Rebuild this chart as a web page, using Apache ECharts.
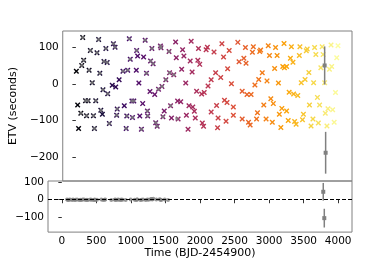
<!DOCTYPE html>
<html><head><meta charset="utf-8">
<script src="https://cdn.jsdelivr.net/npm/echarts@6/dist/echarts.min.js"></script>
<style>html,body{margin:0;padding:0;background:#fff}#c{width:390px;height:260px}</style>
</head><body><div id="c"></div>
<script>
// Model ETV points (x markers, coloured by time)
const modelT = [7,27,41,75,89,104,118,147,162,186,201,220,249,267,282,302,321,346,364,379,403,412,427,456,476,484,509,553,571,596,606,620,629,658,
716,736,765,774,788,813,827,852,861,881,919,924,939,958,972,997,1016,1030,1054,1074,1088,1092,1127,1136,1156,1175,1199,1214,1237,1257,1286,1295,1309,1324,1344,1368,1417,1425,1440,1454,1489,1517,1527,1547,1555,
1595,1609,1623,1643,1671,1681,1706,1720,1739,1754,1768,1778,1802,1816,1836,1855,1865,1884,1913,1923,1942,1952,1981,2000,2010,2058,2058,2101,2126,2140,2155,2163,2203,2221,2246,2260,2284,2299,2308,2332,2366,2395,2395,
2463,2482,2530,2530,2555,2579,2588,2603,2626,2651,2665,2685,2699,2723,2748,2762,2781,2796,2810,2835,2858,2893,2907,2926,2945,2965,2988,3003,3023,3037,3061,3081,3095,3118,3133,3147,3166,3172,3205,3205,3230,3244,3263,3278,3302,3312,3327,3350,3375,3399,3408,3428,3447,3461,3486,3505,3519,3544,3553,3577,3606,3616,3631,3650,3674,3688,3707,3726,3746,3761,3784,3794,3819,3834,3857,3881,3891,3906,3929,3949,3968,3987];
const modelETV = [34,-58,-122,-80,50,126,64,-46,-87,-46,37,91,3,-87,-122,-46,85,121,29,-72,-83,-16,61,96,58,-27,-108,-4,109,100,-9,-86,-69,11,
34,-60,-122,-88,37,123,67,-47,-92,-47,37,91,76,2,-88,-124,-54,73,119,29,-74,-88,-21,62,96,55,-29,-106,-116,-15,103,98,-7,-90,-74,11,88,30,-60,-93,25,114,71,-47,-96,
-49,40,93,76,2,-86,-124,-60,62,116,32,-63,-75,-93,-20,64,96,53,-28,-107,-116,-24,93,100,-6,11,-77,87,30,-59,-120,-93,17,109,73,-45,-102,-51,41,91,0,-63,-86,
113,60,-20,-96,70,99,56,-29,-105,-112,-29,86,101,-3,-96,-79,12,88,92,30,-58,-96,8,104,77,-41,-105,-54,42,99,77,2,-83,-119,-67,47,110,44,-74,47,-100,-23,70,101,59,-28,-103,-110,-32,77,101,3,-98,-83,12,90,95,31,-58,-115,-96,3,99,80,-37,-107,-58,44,101,80,3,-80,-115,-68,40,106,47,-71,-105,-24,71,104];

// Observed (Kepler) ETVs, gray
const obsT = [75,89,104,118,147,162,186,201,220,249,267,282,302,321,346,364,379,412,427,456,476,484,509,571,596,620,629,716,765,774,788,813,827,852,861,881,924,997,1054,1074,1088,1092,1136,1156,1175,1214,1237,1257,1286,1295,1309,1324,1368,1417,1425,1440,1489,1537];
const obsETV = [-80,50,126,64,-46,-87,-46,37,91,3,-87,-122,-46,85,121,29,-72,-16,61,96,58,-27,-108,109,100,-86,-69,34,-122,-88,37,123,67,-47,-92,-47,91,-124,119,29,-74,-88,62,96,55,-106,-116,-15,103,98,-7,-90,11,88,30,-60,25,-95];
const obsResid = [1,-1,0,2,-2,1,-1,0,1,-2,0,-1,1,2,-1,0,-2,1,0,-1,2,-1,0,1,-2,0,1,-1,0,2,-1,1,0,-2,1,0,-1,1,0,-2,1,2,-1,0,1,-1,2,0,3,4,2,5,1,3,0,-1,1,-1];

// Late observations (with error bars), gray
const lateT = [3784, 3799];
const lateETV = [50, -188];
const lateErr = [52, 57];
const lateResid = [45, -104];
const lateResidErr = [50, 53];

const xTicks = [0,500,1000,1500,2000,2500,3000,3500,4000];
const yTopTicks = [-200,-100,0,100];
const yBotTicks = [-100,0,100];

const inferno = ['#000004','#160b39','#420a68','#6a176e','#932667','#bc3754','#dd513a','#f37819','#fca50a','#f6d746','#fcffa4'];
const gray = '#808080';
const frame = '#808080';
const FONT = 'DejaVu Sans';
const fmt = v => v < 0 ? '\u2212' + (-v) : String(v);
const crossPath = 'path://M0,1.8L1.8,0L5,3.2L8.2,0L10,1.8L6.8,5L10,8.2L8.2,10L5,6.8L1.8,10L0,8.2L3.2,5Z';

const errRender = () => function (params, api) {
  const t = api.value(0), v = api.value(1), e = api.value(2);
  const p0 = api.coord([t, v - e]), p1 = api.coord([t, v + e]), pc = api.coord([t, v]);
  return { type: 'group', children: [
    { type: 'line', shape: { x1: p0[0], y1: p0[1], x2: p1[0], y2: p1[1] }, style: { stroke: gray, lineWidth: 1.5 } },
    { type: 'rect', shape: { x: pc[0] - 2, y: pc[1] - 2, width: 4, height: 4 }, style: { fill: gray } }
  ]};
};

const chart = echarts.init(document.getElementById('c'), null, { renderer: 'canvas' });
const axisCommon = { axisLine: { show: false }, splitLine: { show: false } };
chart.setOption({
  animation: false,
  backgroundColor: '#fff',
  textStyle: { fontFamily: FONT },
  grid: [
    { left: 48, right: 38, top: 31, height: 150, show: true, borderColor: frame, borderWidth: 1, backgroundColor: 'transparent' },
    { left: 48, right: 38, top: 181, height: 52, show: true, borderColor: frame, borderWidth: 1, backgroundColor: 'transparent' }
  ],
  visualMap: { type: 'continuous', show: false, min: 0, max: 4000, dimension: 0, seriesIndex: 0, inRange: { color: inferno } },
  xAxis: [
    Object.assign({ type: 'value', gridIndex: 0, min: -200, max: 4200, axisTick: { show: false }, axisLabel: { show: false } }, axisCommon),
    Object.assign({ type: 'value', gridIndex: 1, min: -200, max: 4200,
      name: 'Time (BJD-2454900)', nameLocation: 'middle', nameGap: 14,
      nameTextStyle: { fontFamily: FONT, fontSize: 11, color: '#000' },
      axisTick: { show: true, length: 3.5, customValues: xTicks, lineStyle: { color: '#000', width: 0.8 } },
      axisLabel: { customValues: xTicks, margin: 4, fontFamily: FONT, fontSize: 10.5, color: '#000', formatter: fmt } }, axisCommon)
  ],
  yAxis: [
    Object.assign({ type: 'value', gridIndex: 0, min: -265, max: 144,
      name: 'ETV (seconds)', nameLocation: 'middle', nameGap: 34, nameRotate: 90,
      nameTextStyle: { fontFamily: FONT, fontSize: 11, color: '#000' },
      axisTick: { show: true, length: 3.5, customValues: yTopTicks, lineStyle: { color: '#000', width: 0.8 } },
      axisLabel: { customValues: yTopTicks, margin: 4, fontFamily: FONT, fontSize: 10.5, color: '#000', formatter: fmt } }, axisCommon),
    Object.assign({ type: 'value', gridIndex: 1, min: -183, max: 106,
      axisTick: { show: true, length: 3.5, customValues: yBotTicks, lineStyle: { color: '#000', width: 0.8 } },
      axisLabel: { customValues: yBotTicks, margin: 4, fontFamily: FONT, fontSize: 10.5, color: '#000', formatter: fmt } }, axisCommon)
  ],
  series: [
    { type: 'scatter', xAxisIndex: 0, yAxisIndex: 0, symbol: crossPath, symbolSize: 5.5, z: 2,
      itemStyle: { opacity: 1 },
      data: modelT.map((t, i) => [t, modelETV[i]]) },
    { type: 'scatter', xAxisIndex: 0, yAxisIndex: 0, symbol: 'circle', symbolSize: 3.5, z: 3,
      itemStyle: { color: gray, opacity: 0.8 },
      data: obsT.map((t, i) => [t, obsETV[i]]) },
    { type: 'custom', xAxisIndex: 0, yAxisIndex: 0, z: 4, renderItem: errRender(),
      data: lateT.map((t, i) => [t, lateETV[i], lateErr[i]]) },
    { type: 'scatter', xAxisIndex: 1, yAxisIndex: 1, symbol: 'circle', symbolSize: 4, z: 3,
      itemStyle: { color: gray },
      data: obsT.map((t, i) => [t, obsResid[i]]),
      markLine: { silent: true, symbol: 'none', label: { show: false }, animation: false,
        lineStyle: { color: '#000', type: [4, 2], width: 1.2, opacity: 1 }, data: [{ yAxis: 0 }] } },
    { type: 'custom', xAxisIndex: 1, yAxisIndex: 1, z: 4, renderItem: errRender(),
      data: lateT.map((t, i) => [t, lateResid[i], lateResidErr[i]]) }
  ]
});
</script></body></html>
